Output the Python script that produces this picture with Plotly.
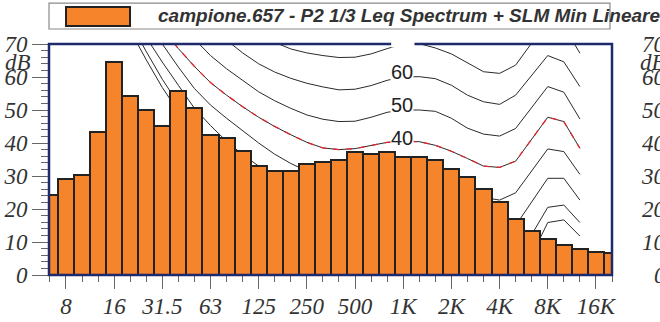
import plotly.graph_objects as go

# ---------------- data ----------------
bands = ["6.3", "8", "10", "12.5", "16", "20", "25", "31.5", "40", "50", "63", "80",
         "100", "125", "160", "200", "250", "315", "400", "500", "630", "800", "1K",
         "1.25K", "1.6K", "2K", "2.5K", "3.15K", "4K", "5K", "6.3K", "8K", "10K",
         "12.5K", "16K", "20K"]
leq_db = [24.3, 29.1, 30.3, 43.4, 64.5, 54.3, 49.9, 45.2, 55.8, 50.6, 42.3, 41.5,
          37.7, 33.0, 31.4, 31.4, 33.7, 34.3, 35.0, 37.4, 36.7, 37.4, 35.9,
          35.9, 35.0, 32.2, 29.8, 26.1, 22.2, 17.1, 13.4, 10.9, 9.0,
          7.8, 7.1, 6.6]

tick_labels = ["8", "16", "31.5", "63", "125", "250", "500", "1K", "2K", "4K", "8K", "16K"]

contour_bands = ["16", "20", "25", "31.5", "40", "50", "63", "80", "100", "125", "160",
                 "200", "250", "315", "400", "500", "630", "800", "1K", "1.25K", "1.6K",
                 "2K", "2.5K", "3.15K", "4K", "5K", "8K", "10K", "12.5K"]
phon_0 = [83, 74, 65.2, 56.8, 49.5, 43, 37.5, 32.5, 28, 24, 20.5, 17.5, 15, 12.5, 10.5,
          8.5, 7, 5.5, 4.5, 4, 3, 1, -1.5, -3.5, -5, -4, 15.9, 16.7, 11.8]
phon_10 = [85.5, 76.5, 67.7, 59.3, 52, 44.5, 39.5, 36, 32.5, 29, 26, 23.5, 21, 18.5, 16.5,
           14.5, 12.5, 11, 10, 10, 9, 7.5, 6, 5, 3, 4, 20.5, 21.2, 15.9]
phon_20 = [87, 79, 72, 64.5, 57.5, 50.5, 45.3, 40.5, 36.5, 33, 30, 27.5, 25, 23, 21.5,
           20.5, 20, 20, 20, 20, 19, 17.5, 16, 14.5, 13, 15, 29.3, 29.3, 22.7]
phon_30 = [92, 84, 77, 70, 63, 56.5, 51.5, 47.5, 43.8, 40.0, 36.6, 33.8, 31.5, 30, 29,
           28.5, 29, 30, 30.2, 30.2, 29, 27.5, 25.5, 23.5, 22.7, 24.9, 38.2, 37.4, 30.5]
phon_40 = [96, 88, 81, 74.5, 68.6, 63.2, 58.3, 54.5, 51.0, 47.8, 45, 42.5, 40.2, 38.5, 38.0,
           38.3, 39.2, 40.2, 40.5, 40.4, 39.3, 37.5, 35.3, 33.0, 32.6, 34.5, 47.8, 46.5, 38.4]
phon_50 = [105, 96, 89, 82, 76.5, 71.5, 66.5, 62.5, 59.0, 55.5, 52.8, 50.5, 48.5, 47.2, 46.5,
           46.6, 47.8, 49.3, 50.0, 50.0, 49.6, 47.5, 44.5, 42.7, 42.1, 44.4, 57.1, 55.4, 47.3]
phon_60 = [110, 102, 95, 89, 83, 79, 76, 71.2, 67.3, 64.0, 61.5, 59.6, 58.1, 57.0, 56.1,
           56.3, 57.4, 59.0, 60.0, 60.1, 59.5, 57.5, 54.5, 52.5, 51.7, 54.5, 66.5, 64.6, 57.1]
phon_70 = [120, 112, 105, 99, 93, 88, 83.5, 79.5, 76, 73, 70.5, 68.5, 67.3, 66.5, 65.9,
           66.0, 67.0, 68.6, 70.0, 70.1, 68.8, 67.0, 64.3, 61.6, 61.1, 63.6, 77.0, 75.5, 67.2]
contours = [("0", phon_0), ("10", phon_10), ("20", phon_20), ("30", phon_30),
            ("40", phon_40), ("50", phon_50), ("60", phon_60), ("70", phon_70)]
labelled = ["40", "50", "60"]
highlight = "40"
label_band = "1K"

legend_text = "campione.657 - P2 1/3 Leq Spectrum + SLM Min Lineare"
y_ticks = [0, 10, 20, 30, 40, 50, 60, 70]
unit = "dB"

# ---------------- figure ----------------
bx = list(range(len(bands)))
cx = [bands.index(b) for b in contour_bands]

ORANGE = "#F5842A"
NAVY = "#1D2A6B"
TXT = "#333333"
SERIF = "Liberation Serif"
SANS = "Liberation Sans"

fig = go.Figure()
for name, vals in contours:
    fig.add_trace(go.Scatter(x=cx, y=vals, mode="lines", line=dict(color="#2a2a2a", width=1),
                             hoverinfo="skip", showlegend=False, xaxis="x", yaxis="y"))
    if name == highlight:
        fig.add_trace(go.Scatter(x=cx, y=vals, mode="lines",
                                 line=dict(color="#E3242B", width=1.3, dash="6px,7px"),
                                 hoverinfo="skip", showlegend=False, xaxis="x", yaxis="y"))

fig.add_trace(go.Bar(x=bx, y=leq_db, width=1.0, marker=dict(color=ORANGE, line=dict(color="#222222", width=2)),
                     showlegend=False, xaxis="x2", yaxis="y2"))

xr = [-0.056, 35.0]
yr = [0, 70]
tick_idx = [bands.index(t) for t in tick_labels]

fig.update_layout(
    width=660, height=322,
    margin=dict(l=49, r=48, t=44, b=47, autoexpand=False),
    paper_bgcolor="white", plot_bgcolor="white",
    showlegend=False,
    xaxis=dict(range=xr, tickmode="array", tickvals=tick_idx, ticktext=tick_labels, automargin=False,
               ticks="outside", ticklen=13, tickwidth=1.3, tickcolor="#666", ticklabelstandoff=-3,
               minor=dict(dtick=1, tick0=0, ticks="outside", ticklen=6, tickwidth=1.3, tickcolor="#666"),
               showgrid=False, zeroline=False, showline=False,
               tickfont=dict(family=SERIF, size=23, color=TXT, style="italic")),
    yaxis=dict(range=yr, tickmode="array", tickvals=y_ticks, automargin=False,
               ticks="outside", ticklen=16, tickwidth=1.3, tickcolor="#666", ticklabelstandoff=0,
               minor=dict(dtick=2, tick0=0, ticks="outside", ticklen=7, tickwidth=1.3, tickcolor="#666"),
               showgrid=False, zeroline=False, showline=False,
               tickfont=dict(family=SERIF, size=23, color=TXT, style="italic")),
    xaxis2=dict(range=xr, overlaying="x", visible=False),
    yaxis2=dict(range=yr, overlaying="y", visible=False),
    bargap=0,
)

shapes = []
# plot frame
shapes.append(dict(type="rect", xref="paper", yref="paper", x0=0, x1=1, y0=0, y1=1,
                   line=dict(color=NAVY, width=2.5), layer="above"))
# gap of the hidden 70 label on the top border
li = bands.index(label_band)
shapes.append(dict(type="rect", xref="x", yref="paper", x0=li - 0.75, x1=li + 0.7, y0=0.985, y1=1.02,
                   line=dict(width=0), fillcolor="white", layer="above"))
# legend box and swatch
shapes.append(dict(type="rect", xref="paper", yref="paper", x0=0.0, x1=0.9964, y0=1.065, y1=1.177,
                   line=dict(color="#8a8a8a", width=1.2), fillcolor="white"))
shapes.append(dict(type="rect", xref="paper", yref="paper", x0=0.0302, x1=0.1439, y0=1.078, y1=1.160,
                   line=dict(color="#222222", width=2), fillcolor=ORANGE))
fig.update_layout(shapes=shapes)

ann = []
ann.append(dict(text=legend_text, xref="paper", yref="paper", x=0.19, y=1.124, xanchor="left",
                yanchor="middle", showarrow=False,
                font=dict(family=SANS, size=19, color=TXT, weight="bold", style="italic")))
for name in labelled:
    ann.append(dict(text=name, xref="x", yref="y", x=li - 0.1, y=float(name), yshift=5, showarrow=False,
                    bgcolor="white", borderpad=0,
                    font=dict(family=SANS, size=20, color="#222222")))
ann.append(dict(text=unit, xref="paper", yref="y", x=-0.0284, y=64.5, xanchor="right", showarrow=False,
                font=dict(family=SERIF, size=23, color=TXT, style="italic")))
# repeated axis labels at the right edge
for v in y_ticks:
    ann.append(dict(text=str(v), xref="paper", yref="y", x=1.0995, y=v, xanchor="right", showarrow=False,
                    font=dict(family=SERIF, size=23, color=TXT, style="italic")))
ann.append(dict(text=unit, xref="paper", yref="y", x=1.0995, y=64.5, xanchor="right", showarrow=False,
                font=dict(family=SERIF, size=23, color=TXT, style="italic")))
fig.update_layout(annotations=ann)

fig.write_html("out.html", config={"displayModeBar": False},
               post_script="document.body.style.margin='0px';document.body.style.overflow='hidden';")
